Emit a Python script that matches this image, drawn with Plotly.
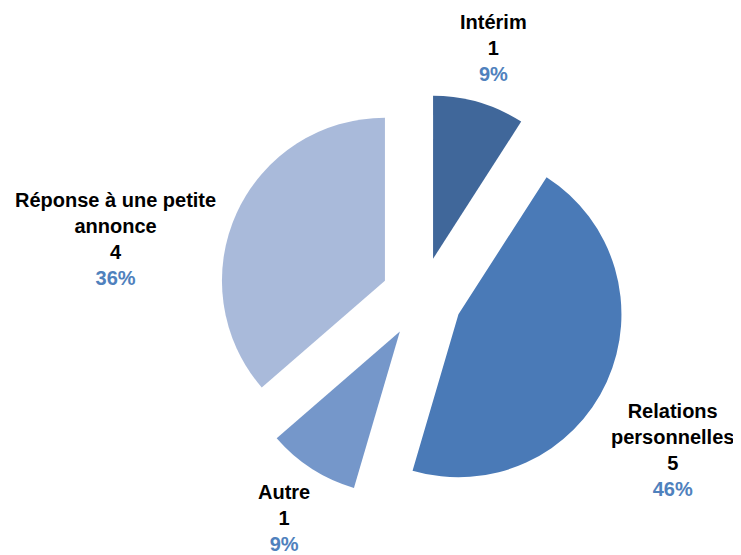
import plotly.graph_objects as go

categories = ["Intérim", "Relations personnelles", "Autre", "Réponse à une petite annonce"]
label_lines = ["Intérim", "Relations<br>personnelles", "Autre", "Réponse à une petite<br>annonce"]
values = [1, 5, 1, 4]
percents = ["9%", "46%", "9%", "36%"]
colors = ["#40679A", "#4A7AB7", "#7597CA", "#A9BADA"]

# page has an 8px body margin; figure is sized to fill the rest of the window
OFF = 8
W, H = 741 - OFF, 555 - OFF
# label block centres (window pixels)
label_pos = [(493.5, 48), (672, 450), (284, 518), (116, 239)]

cx, cy, half = 421.7 - OFF, 297.5 - OFF, 203.4

fig = go.Figure(go.Pie(
    labels=categories,
    values=values,
    sort=False,
    direction="clockwise",
    rotation=0,
    pull=[0.248] * len(values),
    marker=dict(colors=colors, line=dict(width=0)),
    textinfo="none",
    hoverinfo="label+value+percent",
    showlegend=False,
    domain=dict(x=[(cx - 220) / W, (cx + 220) / W],
                y=[1 - (cy + half) / H, 1 - (cy - half) / H]),
))

for lab, v, p, (px, py) in zip(label_lines, values, percents, label_pos):
    fig.add_annotation(
        x=(px - OFF) / W, y=1 - (py - OFF) / H, xref="paper", yref="paper",
        xanchor="center", yanchor="middle", align="center",
        showarrow=False,
        text=f"<b>{lab}</b><br><b>{v}</b><br><b><span style='color:#4F81BD'>{p}</span></b>",
        font=dict(family="Liberation Sans, Arial, sans-serif", size=20, color="#000000"),
    )

fig.update_layout(
    width=W, height=H,
    margin=dict(l=0, r=0, t=0, b=0),
    paper_bgcolor="white",
    plot_bgcolor="white",
)

fig.write_html("out.html")
